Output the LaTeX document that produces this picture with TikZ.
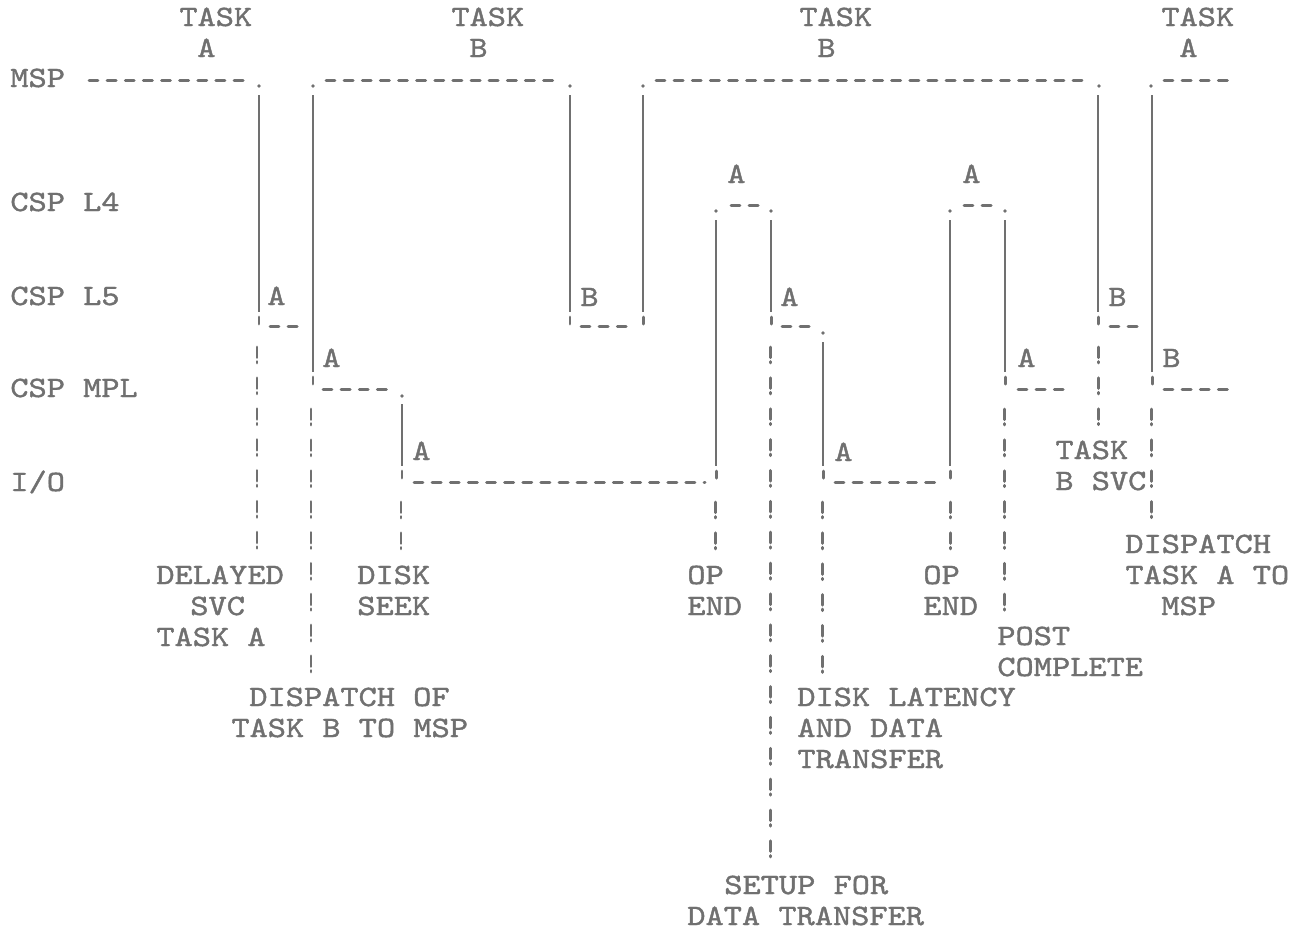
\documentclass[tikz,border=0pt]{standalone}
\usepackage{fontspec}
\usepackage{tikz}
\usetikzlibrary{positioning}
\newfontfamily\typewriter{lmmono10-regular.otf}[FakeStretch=1.175, FakeBold=1.4]
\definecolor{ink}{RGB}{112,112,112}

\tikzset{
  typed/.style={font=\typewriter\fontsize{16.8pt}{20pt}\selectfont,
                text=ink, inner sep=0pt, anchor=base west},
  rail/.style={ink, line width=1.7pt, line cap=round,
               dash pattern=on 5.1pt off 5.22pt},
  riser/.style={ink, line width=1.1pt},
  tick/.style={ink, line width=1.7pt, line cap=round},
  bang/.style={ink, line width=1.7pt, line cap=round,
               dash pattern=on 6pt off 2.3pt on 0.8pt off 8.47pt}
}

\begin{document}
\begin{tikzpicture}[x=0.02cm, y=-0.02cm]
  \useasboundingbox (0,0) rectangle (1302,931);

  % task headings
  \node[typed] (taskA1) at (179,26) {TASK};
  \node[typed] (nameA1) at (197,57) {A};
  \node[typed] (taskB1) at (451,26) {TASK};
  \node[typed] (nameB1) at (469,57) {B};
  \node[typed] (taskB2) at (799,26) {TASK};
  \node[typed] (nameB2) at (817,57) {B};
  \node[typed] (taskA2) at (1161,26) {TASK};
  \node[typed] (nameA2) at (1179,57) {A};

  % processor levels
  \node[typed] (msp) at (10,87)  {MSP};
  \node[typed] (lfour) at (10,211) {CSP L4};
  \node[typed] (lfive) at (10,305) {CSP L5};
  \node[typed] (mpl) at (10,397) {CSP MPL};
  \node[typed] (io) at (10,491) {I/O};

  % horizontal runs: MSP, L4, L5, MPL, I/O
  \foreach \a/\b/\y in {89/248/80, 326/560/80, 656/1090/80, 1164/1230/80,
                        731/760/205, 964/995/205,
                        270/300/326, 581/630/326, 782/812/326, 1110/1140/326,
                        323/390/389, 1018/1066/389, 1164/1228/389,
                        414/705/482, 835/937/482}
    \draw[rail] (\a,\y) -- (\b,\y);

  % corner dots
  \foreach \x/\y in {259/86, 313/86, 570/86, 643/86, 1099/86, 1151/86,
                     716/211, 771/211, 950/211, 1005/211,
                     823/333, 402/396}
    \fill[ink] (\x,\y) circle (1.9);

  % vertical transitions with their foot ticks
  \foreach \x/\t/\b in {259/95/312, 313/95/372, 402/404/466,
                        570/95/312, 643/95/312, 716/220/466,
                        771/220/312, 823/342/466, 950/220/466,
                        1005/220/372, 1098/95/312, 1152/95/372}
  {
    \draw[riser] (\x,\t) -- (\x,\b);
    \draw[tick] (\x,\b+5) -- (\x,\b+12);
  }

  % task letters beside the transitions
  \node[typed] (a1) at (267,305) {A};
  \node[typed] (a2) at (322,367) {A};
  \node[typed] (a3) at (412,460) {A};
  \node[typed] (b1) at (580,306) {B};
  \node[typed] (a4) at (727,183) {A};
  \node[typed] (a5) at (780,306) {A};
  \node[typed] (a6) at (834,461) {A};
  \node[typed] (a7) at (962,183) {A};
  \node[typed] (a8) at (1017,367) {A};
  \node[typed] (b2) at (1108,306) {B};
  \node[typed] (b3) at (1162,367) {B};

  % drop lines down to the notes
  \foreach \x/\f/\l in {257/357/543, 311/419/667, 401/512/543,
                        715/512/543, 770/357/853, 822/512/667,
                        950/512/543, 1004/419/605, 1098/357/419,
                        1151/419/512}
    \draw[bang] (\x,\f-10) -- (\x,\l+7);

  % notes
  \node[typed] (delayed) at (156,584) {DELAYED};
  \node[typed] (svc) at (190,615) {SVC};
  \node[typed] (svctask) at (156,646) {TASK A};
  \node[typed] (disk) at (357,584) {DISK};
  \node[typed] (seek) at (357,615) {SEEK};
  \node[typed] (dispB) at (249,706) {DISPATCH OF};
  \node[typed] (dispBb) at (231,737) {TASK B TO MSP};
  \node[typed] (op1) at (687,584) {OP};
  \node[typed] (end1) at (687,615) {END};
  \node[typed] (op2) at (923,584) {OP};
  \node[typed] (end2) at (923,615) {END};
  \node[typed] (post) at (997,645) {POST};
  \node[typed] (complete) at (997,676) {COMPLETE};
  \node[typed] (lat) at (797,706) {DISK LATENCY};
  \node[typed] (latb) at (797,737) {AND DATA};
  \node[typed] (latc) at (797,768) {TRANSFER};
  \node[typed] (setup) at (724,894) {SETUP FOR};
  \node[typed] (setupb) at (687,925) {DATA TRANSFER};
  \node[typed] (bsvc) at (1055,459) {TASK};
  \node[typed] (bsvcb) at (1055,490) {B SVC};
  \node[typed] (dispA) at (1125,553) {DISPATCH};
  \node[typed] (dispAb) at (1125,584) {TASK A TO};
  \node[typed] (dispAc) at (1161,615) {MSP};
\end{tikzpicture}
\end{document}
